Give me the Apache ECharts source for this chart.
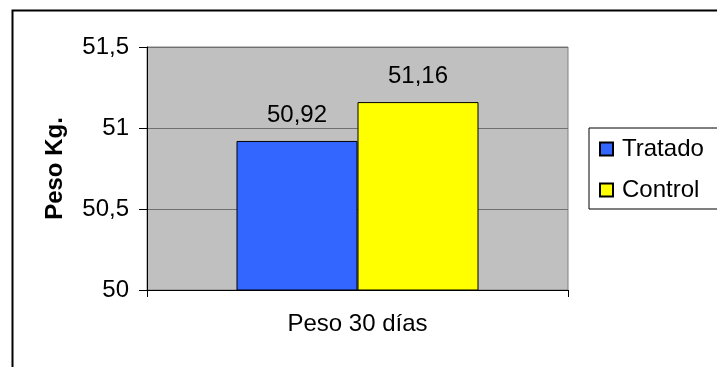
<!DOCTYPE html>
<html>
<head>
<meta charset="utf-8">
<script src="https://cdn.jsdelivr.net/npm/echarts@6/dist/echarts.min.js"></script>
<style>
html,body{margin:0;padding:0;background:#fff;}
#c{width:717px;height:367px;}
</style>
</head>
<body>
<div id="c"></div>
<script>
const categories = ['Peso 30 días'];
const seriesNames = ['Tratado', 'Control'];
const tratado = [50.92];
const control = [51.16];
const yMin = 50, yMax = 51.5, yStep = 0.5;

const FONT = '"Liberation Sans", Arial, sans-serif';
const fmt = v => String(v).replace('.', ',');

const chart = echarts.init(document.getElementById('c'), null, {renderer: 'canvas'});
chart.setOption({
  animation: false,
  backgroundColor: '#fff',
  textStyle: {fontFamily: FONT},
  graphic: [{
    type: 'rect', left: 10, top: 8, silent: true, z: 100,
    shape: {x: 0, y: 0, width: 730, height: 380},
    style: {fill: 'none', stroke: '#000', lineWidth: 2}
  }],
  grid: {
    left: 147, top: 47, right: 149, bottom: 77,
    show: true, backgroundColor: '#C0C0C0', borderColor: '#808080', borderWidth: 1
  },
  legend: {
    data: seriesNames,
    orient: 'vertical',
    left: 589, top: 128,
    padding: [9, 40, 7, 10],
    itemGap: 17,
    itemWidth: 13, itemHeight: 13,
    icon: 'rect',
    borderColor: '#000', borderWidth: 1,
    backgroundColor: '#fff',
    textStyle: {fontFamily: FONT, fontSize: 24, color: '#000', lineHeight: 24, padding: [0, 0, 0, 4]}
  },
  xAxis: {
    type: 'category',
    data: categories,
    axisLine: {lineStyle: {color: '#000', width: 1}},
    axisTick: {show: true, alignWithLabel: false, length: 7, lineStyle: {color: '#000'}},
    axisLabel: {fontFamily: FONT, fontSize: 24, color: '#000', margin: 22}
  },
  yAxis: {
    type: 'value',
    min: yMin, max: yMax, interval: yStep,
    name: 'Peso Kg.',
    nameLocation: 'middle',
    nameGap: 80,
    nameTextStyle: {fontFamily: FONT, fontSize: 24, fontWeight: 'bold', color: '#000'},
    axisLine: {show: true, lineStyle: {color: '#000', width: 1}},
    axisTick: {show: true, length: 8, lineStyle: {color: '#000'}},
    axisLabel: {fontFamily: FONT, fontSize: 24, color: '#000', margin: 18, formatter: v => fmt(v)},
    splitLine: {show: true, lineStyle: {color: '#707070', width: 1}}
  },
  series: [
    {
      name: seriesNames[0], type: 'bar', data: tratado,
      barWidth: 121, barGap: '0%',
      itemStyle: {color: '#3366FF', borderColor: '#000', borderWidth: 1},
      label: {show: true, position: 'top', distance: 14, fontFamily: FONT, fontSize: 24, color: '#000',
              formatter: p => fmt(p.value)}
    },
    {
      name: seriesNames[1], type: 'bar', data: control,
      barWidth: 121, barGap: '0%',
      itemStyle: {color: '#FFFF00', borderColor: '#000', borderWidth: 1},
      label: {show: true, position: 'top', distance: 14, fontFamily: FONT, fontSize: 24, color: '#000',
              formatter: p => fmt(p.value)}
    }
  ]
});
</script>
</body>
</html>
